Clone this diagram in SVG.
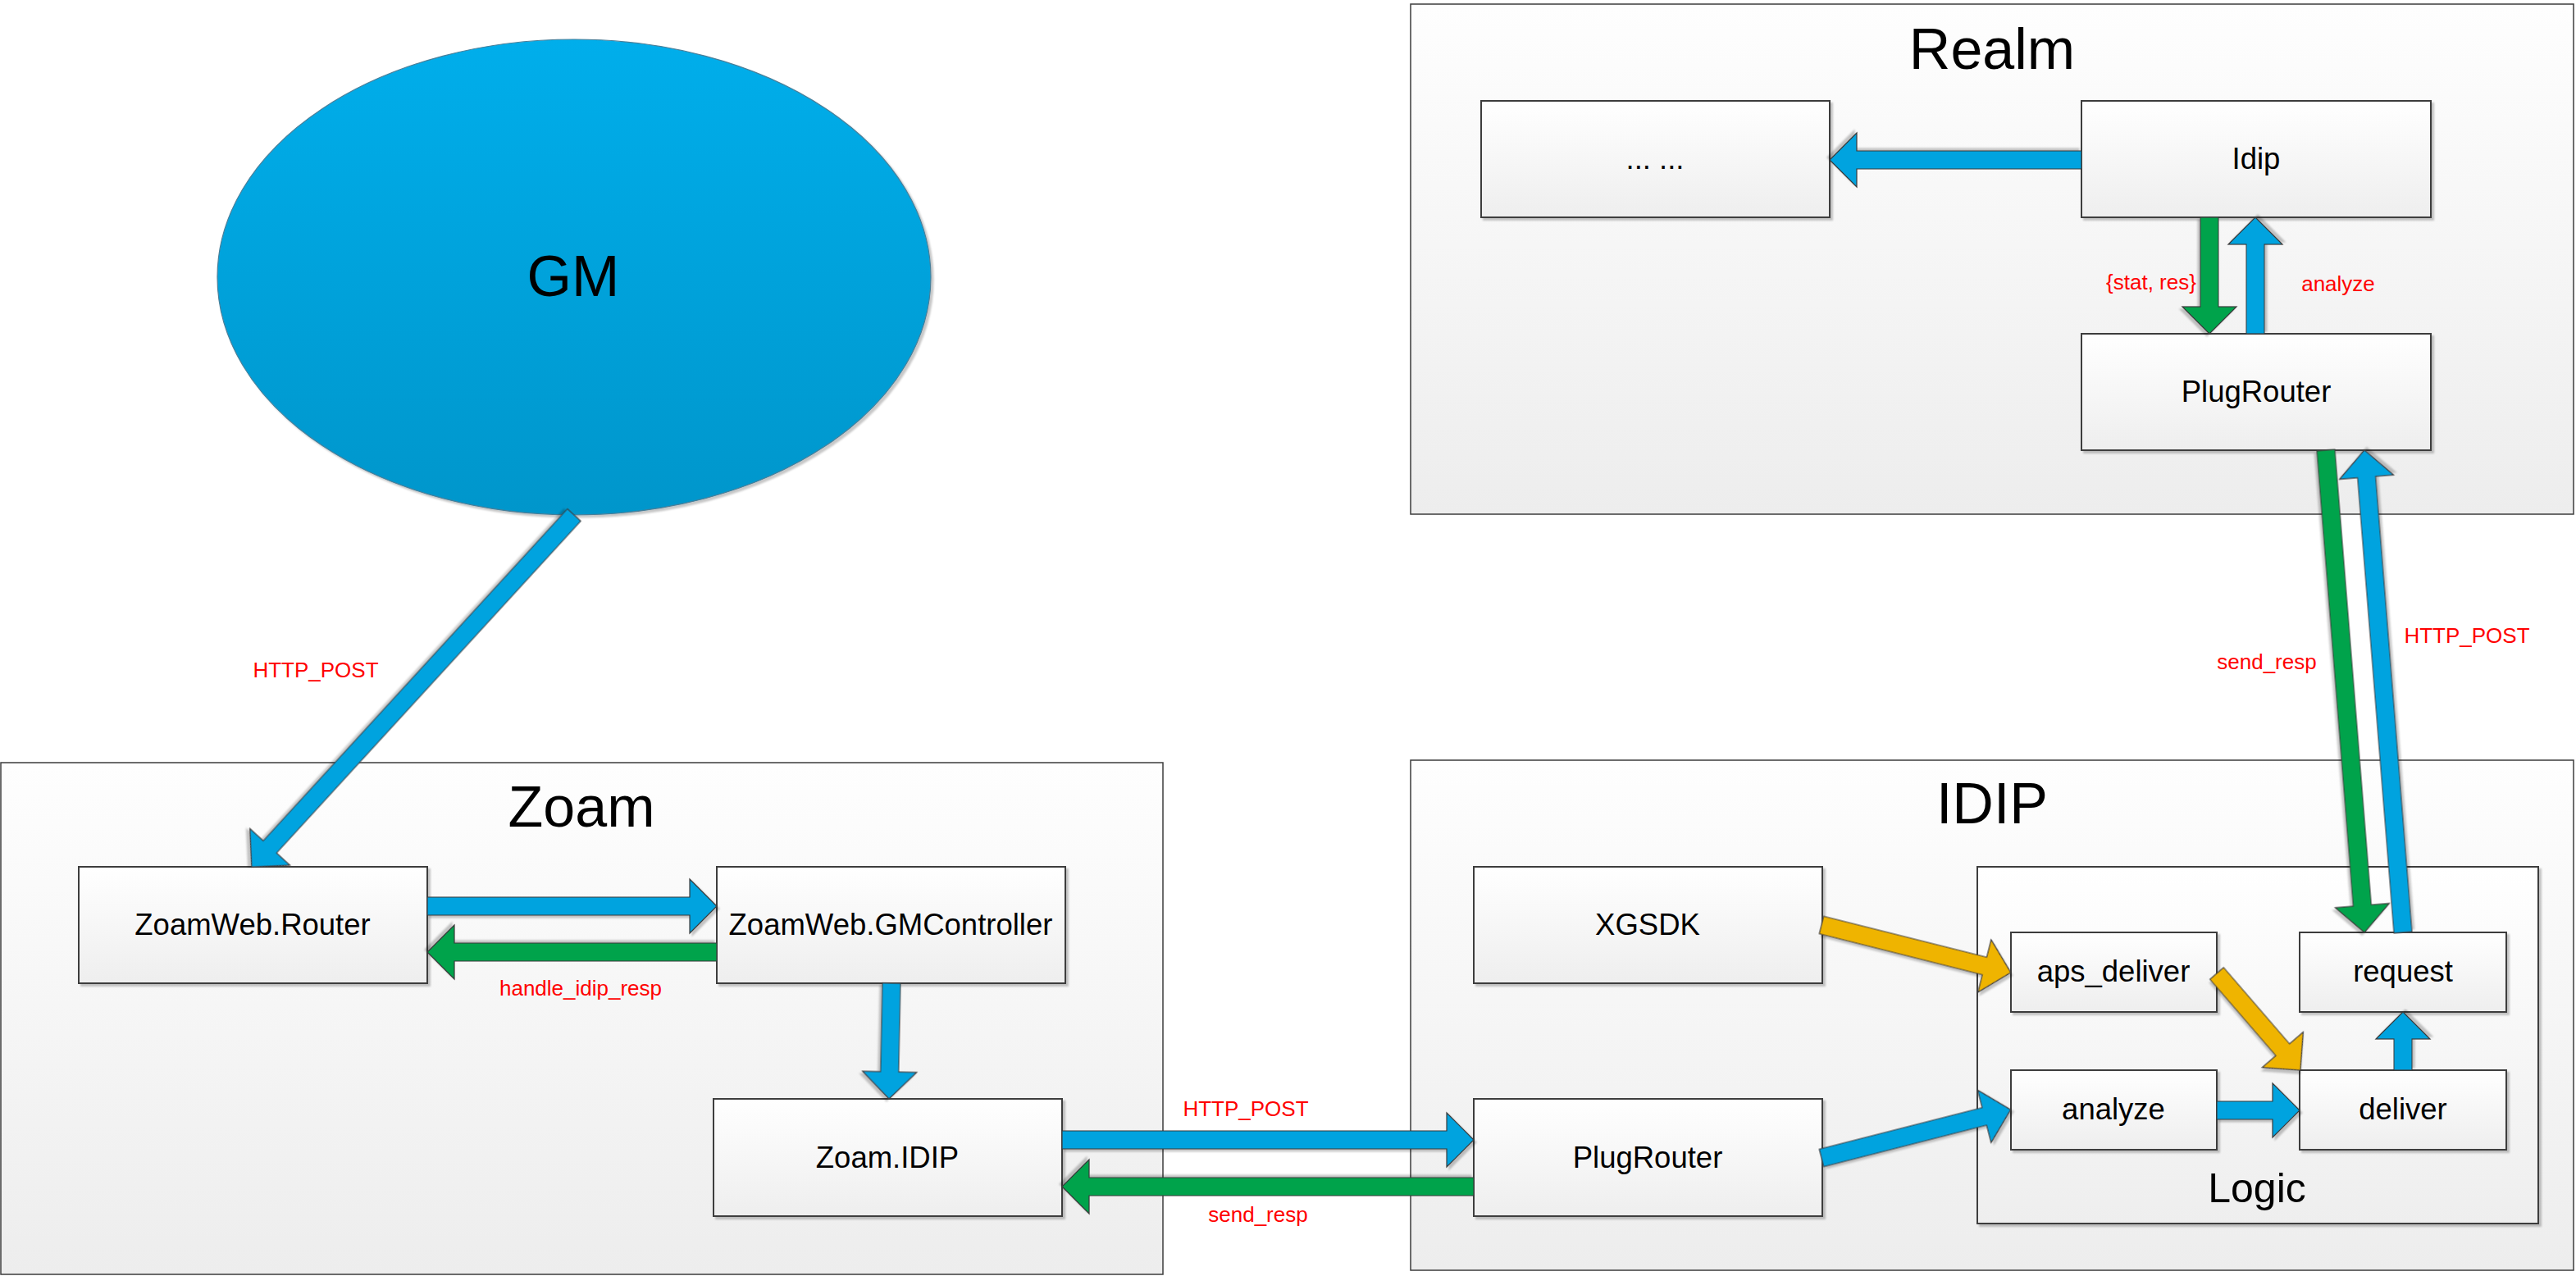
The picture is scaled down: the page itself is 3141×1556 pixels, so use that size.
<svg xmlns="http://www.w3.org/2000/svg" width="3141" height="1556" viewBox="0 0 3141 1556">
<defs>
<linearGradient id="gBox" x1="0" y1="0" x2="0" y2="1"><stop offset="0" stop-color="#FFFFFF"/><stop offset="1" stop-color="#EEEEEE"/></linearGradient>
<linearGradient id="gCont" x1="0" y1="0" x2="0" y2="1"><stop offset="0" stop-color="#FEFEFE"/><stop offset="1" stop-color="#EDEDED"/></linearGradient>
<linearGradient id="gGM" x1="0" y1="0" x2="0" y2="1"><stop offset="0" stop-color="#00AEEB"/><stop offset="1" stop-color="#0096CB"/></linearGradient>
<filter id="sh" x="-5%" y="-5%" width="110%" height="115%"><feDropShadow dx="3" dy="3" stdDeviation="1.2" flood-color="#000" flood-opacity="0.22"/></filter>
</defs>
<style>
.cont{fill:url(#gCont);stroke:#3C3C3C;stroke-width:1.5}
.box{fill:url(#gBox);stroke:#3C3C3C;stroke-width:2;filter:url(#sh)}
.title{font-family:"Liberation Sans",Arial,sans-serif;font-size:70px;fill:#000;text-anchor:middle}
.nt{font-family:"Liberation Sans",Arial,sans-serif;font-size:36.5px;fill:#000;text-anchor:middle}
.lbl{font-family:"Liberation Sans",Arial,sans-serif;font-size:26px;fill:#FF0000;text-anchor:middle}
.ab{fill:#00A3DF;stroke:#3A3A3A;stroke-width:1.2;filter:url(#sh)}
.ag{fill:#00A34C;stroke:#3A3A3A;stroke-width:1.2;filter:url(#sh)}
.ay{fill:#EFB400;stroke:#3A3A3A;stroke-width:1.2;filter:url(#sh)}
</style>
<rect width="3141" height="1556" fill="#FFFFFF"/>

<g id="realm">
<rect class="cont" x="1720" y="5" width="1418" height="622"/>
<text class="title" x="2429" y="84">Realm</text>
</g>
<g id="zoam">
<rect class="cont" x="1" y="930" width="1417" height="624"/>
<text class="title" x="709" y="1008">Zoam</text>
</g>
<g id="idip">
<rect class="cont" x="1720" y="927" width="1418" height="622"/>
<text class="title" x="2429" y="1004">IDIP</text>
</g>
<g id="logic">
<rect class="box" x="2411" y="1057" width="684" height="435"/>
<text class="title" x="2752" y="1466" style="font-size:50px">Logic</text>
</g>

<g id="gm">
<ellipse cx="700" cy="338" rx="435" ry="290" fill="url(#gGM)" stroke="#4A7F99" stroke-width="1.2" filter="url(#sh)"/>
<text class="title" x="699" y="361">GM</text>
</g>

<g id="dots"><rect class="box" x="1806" y="123" width="425" height="142"/><text class="nt" x="2018" y="206">... ...</text></g>
<g id="idip-realm"><rect class="box" x="2538" y="123" width="426" height="142"/><text class="nt" x="2751" y="206">Idip</text></g>
<g id="plugrouter-realm"><rect class="box" x="2538" y="407" width="426" height="142"/><text class="nt" x="2751" y="490">PlugRouter</text></g>

<g id="zoamweb-router"><rect class="box" x="96" y="1057" width="425" height="142"/><text class="nt" x="308" y="1140">ZoamWeb.Router</text></g>
<g id="zoamweb-gmcontroller"><rect class="box" x="874" y="1057" width="425" height="142"/><text class="nt" x="1086" y="1140">ZoamWeb.GMController</text></g>
<g id="zoam-idip"><rect class="box" x="870" y="1340" width="425" height="143"/><text class="nt" x="1082" y="1424">Zoam.IDIP</text></g>

<g id="xgsdk"><rect class="box" x="1797" y="1057" width="425" height="142"/><text class="nt" x="2009" y="1140">XGSDK</text></g>
<g id="plugrouter-idip"><rect class="box" x="1797" y="1340" width="425" height="143"/><text class="nt" x="2009" y="1424">PlugRouter</text></g>
<g id="aps-deliver"><rect class="box" x="2452" y="1137" width="251" height="97"/><text class="nt" x="2577" y="1197">aps_deliver</text></g>
<g id="request"><rect class="box" x="2804" y="1137" width="252" height="97"/><text class="nt" x="2930" y="1197">request</text></g>
<g id="analyze"><rect class="box" x="2452" y="1305" width="251" height="97"/><text class="nt" x="2577" y="1365">analyze</text></g>
<g id="deliver"><rect class="box" x="2804" y="1305" width="252" height="97"/><text class="nt" x="2930" y="1365">deliver</text></g>

<g id="connectors">
<path class="ab" transform="translate(700,628) rotate(132.5)" d="M0,-11 H549 V-33 L582,0 L549,33 V11 H0 Z"/>
<path class="ab" transform="translate(521,1105)" d="M0,-11 H320 V-33 L353,0 L320,33 V11 H0 Z"/>
<path class="ag" transform="translate(874,1161) rotate(180)" d="M0,-11 H320 V-33 L353,0 L320,33 V11 H0 Z"/>
<path class="ab" transform="translate(1087,1199) rotate(91.2)" d="M0,-11 H108 V-33 L141,0 L108,33 V11 H0 Z"/>
<path class="ab" transform="translate(1295,1390)" d="M0,-11 H469 V-33 L502,0 L469,33 V11 H0 Z"/>
<path class="ag" transform="translate(1797,1447) rotate(180)" d="M0,-11 H469 V-33 L502,0 L469,33 V11 H0 Z"/>
<path class="ay" transform="translate(2221,1128) rotate(14.1)" d="M0,-11 H205 V-33 L238,0 L205,33 V11 H0 Z"/>
<path class="ab" transform="translate(2221,1412) rotate(-14.3)" d="M0,-11 H205 V-33 L238,0 L205,33 V11 H0 Z"/>
<path class="ay" transform="translate(2703,1187) rotate(49.2)" d="M0,-11 H123 V-33 L156,0 L123,33 V11 H0 Z"/>
<path class="ab" transform="translate(2703,1354)" d="M0,-11 H68 V-33 L101,0 L68,33 V11 H0 Z"/>
<path class="ab" transform="translate(2930,1305) rotate(-90)" d="M0,-11 H38 V-33 L71,0 L38,33 V11 H0 Z"/>
<path class="ab" transform="translate(2538,195) rotate(180)" d="M0,-11 H274 V-33 L307,0 L274,33 V11 H0 Z"/>
<path class="ag" transform="translate(2694,265) rotate(90)" d="M0,-11 H109 V-33 L142,0 L109,33 V11 H0 Z"/>
<path class="ab" transform="translate(2750,407) rotate(-90)" d="M0,-11 H109 V-33 L142,0 L109,33 V11 H0 Z"/>
<path class="ag" transform="translate(2836,549) rotate(85.43)" d="M0,-11 H557 V-33 L590,0 L557,33 V11 H0 Z"/>
<path class="ab" transform="translate(2930,1137) rotate(-94.57)" d="M0,-11 H557 V-33 L590,0 L557,33 V11 H0 Z"/>
<text class="lbl" x="385" y="826">HTTP_POST</text>
<text class="lbl" x="708" y="1214">handle_idip_resp</text>
<text class="lbl" x="1519" y="1361">HTTP_POST</text>
<text class="lbl" x="1534" y="1490">send_resp</text>
<text class="lbl" x="2623" y="353">{stat, res}</text>
<text class="lbl" x="2851" y="355">analyze</text>
<text class="lbl" x="2764" y="816">send_resp</text>
<text class="lbl" x="3008" y="784">HTTP_POST</text>
</g>
</svg>
